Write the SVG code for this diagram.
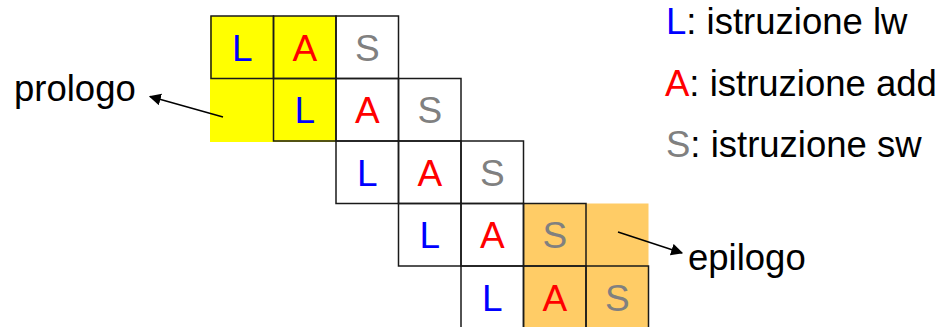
<svg xmlns="http://www.w3.org/2000/svg" width="942" height="327" viewBox="0 0 942 327">
<style>
.cell{fill:none;stroke:#1a1a1a;stroke-width:1.5}
.ltr{font-family:"Liberation Sans",Arial,sans-serif;font-size:37px;text-anchor:middle}
.L{fill:#0000ff}.A{fill:#ff0000}.S{fill:#808080}
.lbl{font-family:"Liberation Sans",Arial,sans-serif;font-size:36.5px;fill:#000}
.conn{stroke:#000;stroke-width:1.5;fill:none;marker-end:url(#ah)}
</style>
<defs>
<marker id="ah" viewBox="0 0 10 10" refX="9" refY="5" markerWidth="12" markerHeight="12" markerUnits="userSpaceOnUse" orient="auto">
<path d="M0,0 L10,5 L0,10 z" fill="#000"/>
</marker>
</defs>
<rect width="942" height="327" fill="#fff"/>
<g id="prologo-area"><rect x="210" y="16" width="126" height="126" fill="#ffff00"/></g>
<g id="epilogo-area"><rect x="523.5" y="203.5" width="125" height="125" fill="#ffcc66"/></g>

<g id="r0c0"><rect class="cell" x="211" y="16" width="62.5" height="62.5"/><text class="ltr L" x="242.25" y="60.5">L</text></g>
<g id="r0c1"><rect class="cell" x="273.5" y="16" width="62.5" height="62.5"/><text class="ltr A" x="304.75" y="60.5">A</text></g>
<g id="r0c2"><rect class="cell" x="336" y="16" width="62.5" height="62.5"/><text class="ltr S" x="367.25" y="60.5">S</text></g>

<g id="r1c1"><rect class="cell" x="273.5" y="78.5" width="62.5" height="62.5"/><text class="ltr L" x="304.75" y="123">L</text></g>
<g id="r1c2"><rect class="cell" x="336" y="78.5" width="62.5" height="62.5"/><text class="ltr A" x="367.25" y="123">A</text></g>
<g id="r1c3"><rect class="cell" x="398.5" y="78.5" width="62.5" height="62.5"/><text class="ltr S" x="429.75" y="123">S</text></g>

<g id="r2c2"><rect class="cell" x="336" y="141" width="62.5" height="62.5"/><text class="ltr L" x="367.25" y="185.5">L</text></g>
<g id="r2c3"><rect class="cell" x="398.5" y="141" width="62.5" height="62.5"/><text class="ltr A" x="429.75" y="185.5">A</text></g>
<g id="r2c4"><rect class="cell" x="461" y="141" width="62.5" height="62.5"/><text class="ltr S" x="492.25" y="185.5">S</text></g>

<g id="r3c3"><rect class="cell" x="398.5" y="203.5" width="62.5" height="62.5"/><text class="ltr L" x="429.75" y="248">L</text></g>
<g id="r3c4"><rect class="cell" x="461" y="203.5" width="62.5" height="62.5"/><text class="ltr A" x="492.25" y="248">A</text></g>
<g id="r3c5"><rect class="cell" x="523.5" y="203.5" width="62.5" height="62.5"/><text class="ltr S" x="554.75" y="248">S</text></g>

<g id="r4c4"><rect class="cell" x="461" y="266" width="62.5" height="62.5"/><text class="ltr L" x="492.25" y="310.5">L</text></g>
<g id="r4c5"><rect class="cell" x="523.5" y="266" width="62.5" height="62.5"/><text class="ltr A" x="554.75" y="310.5">A</text></g>
<g id="r4c6"><rect class="cell" x="586" y="266" width="62.5" height="62.5"/><text class="ltr S" x="617.25" y="310.5">S</text></g>

<g id="label-prologo"><text class="lbl" x="14" y="101">prologo</text></g>
<g id="label-epilogo"><text class="lbl" x="688" y="270">epilogo</text></g>

<g id="legend">
<text class="lbl" x="666" y="33.5"><tspan class="L">L</tspan>: istruzione lw</text>
<text class="lbl" x="665" y="96"><tspan class="A">A</tspan>: istruzione add</text>
<text class="lbl" x="666" y="157"><tspan class="S">S</tspan>: istruzione sw</text>
</g>

<g id="connectors">
<line class="conn" x1="223" y1="117" x2="150" y2="96.5"/>
<line class="conn" x1="618" y1="232" x2="682" y2="253"/>
</g>
</svg>
